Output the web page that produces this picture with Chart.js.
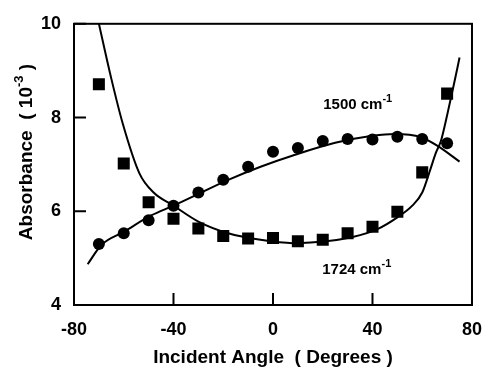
<!DOCTYPE html>
<html lang="en">
<head>
<meta charset="UTF-8">
<title>Absorbance vs Incident Angle</title>
<script src="https://cdn.jsdelivr.net/npm/chart.js"></script>
<style>
    html, body {
        margin: 0;
        padding: 0;
        background: #fff;
    }
    #wrap {
        width: 496px;
        height: 371px;
        position: relative;
    }
</style>
</head>
<body>
<div id="wrap"><canvas id="absChart"></canvas></div>
<script>
// measured points (angle in degrees, absorbance x 10^-3)
const angles = [-70, -60, -50, -40, -30, -20, -10, 0, 10, 20, 30, 40, 50, 60, 70];
const abs1500 = [5.30, 5.53, 5.81, 6.12, 6.40, 6.67, 6.95, 7.27, 7.35, 7.50, 7.54, 7.53, 7.59, 7.54, 7.45];
const abs1724 = [8.71, 7.02, 6.19, 5.84, 5.63, 5.47, 5.42, 5.43, 5.36, 5.39, 5.53, 5.67, 5.99, 6.83, 8.51];

// fitted curves
const fitAngles1500 = [-74.5, -69, -60, -49, -40, -30, -18, -5, 8, 25, 40, 49, 59.5, 66, 75];
const fit1500 = [4.87, 5.28, 5.56, 5.91, 6.12, 6.37, 6.67, 6.95, 7.19, 7.46, 7.61, 7.65, 7.58, 7.40, 7.06];
const fitAngles1724 = [-70.2, -65, -60.5, -53.7, -48, -40, -30, -18, -5, 8, 23, 32, 42, 50, 56, 60, 63, 65.5, 67.5, 70, 72.5, 75];
const fit1724 = [10.05, 8.83, 7.89, 6.81, 6.40, 6.12, 5.78, 5.53, 5.39, 5.32, 5.37, 5.45, 5.62, 5.87, 6.12, 6.40, 6.85, 7.25, 7.50, 8.05, 8.65, 9.28];

const xTicks = [-80, -40, 0, 40, 80];
const yTicks = [4, 6, 8, 10];

const FONT = '"Liberation Sans", Arial, sans-serif';

function toPoints(xs, ys) {
    return xs.map((x, i) => ({ x: x, y: ys[i] }));
}

// text with a superscript, drawn left to right from x
function drawSupText(ctx, x, y, base, sup, tail, size) {
    ctx.font = 'bold ' + size + 'px ' + FONT;
    ctx.textAlign = 'left';
    ctx.textBaseline = 'middle';
    ctx.fillText(base, x, y);
    let w = ctx.measureText(base).width;
    ctx.font = 'bold ' + Math.round(size * 0.7) + 'px ' + FONT;
    ctx.fillText(sup, x + w, y - size * 0.38);
    w += ctx.measureText(sup).width;
    if (tail) {
        ctx.font = 'bold ' + size + 'px ' + FONT;
        ctx.fillText(tail, x + w, y);
    }
}

function supWidth(ctx, base, sup, tail, size) {
    ctx.font = 'bold ' + size + 'px ' + FONT;
    let w = ctx.measureText(base).width + (tail ? ctx.measureText(tail).width : 0);
    ctx.font = 'bold ' + Math.round(size * 0.7) + 'px ' + FONT;
    return w + ctx.measureText(sup).width;
}

const framePlugin = {
    id: 'frame',
    afterDraw(chart) {
        const { ctx, chartArea: a, scales } = chart;
        ctx.save();
        ctx.strokeStyle = '#000';
        ctx.fillStyle = '#000';
        ctx.lineWidth = 2;
        ctx.strokeRect(a.left, a.top, a.right - a.left, a.bottom - a.top);

        // inward tick marks
        const tick = 12;
        ctx.beginPath();
        xTicks.forEach(v => {
            const px = scales.x.getPixelForValue(v);
            ctx.moveTo(px, a.bottom);
            ctx.lineTo(px, a.bottom - tick);
        });
        yTicks.forEach(v => {
            const py = scales.y.getPixelForValue(v);
            ctx.moveTo(a.left, py);
            ctx.lineTo(a.left + tick, py);
        });
        ctx.stroke();

        // band labels
        drawSupText(ctx, scales.x.getPixelForValue(20.2), scales.y.getPixelForValue(8.27), '1500 cm', '-1', '', 15);
        drawSupText(ctx, scales.x.getPixelForValue(19.8), scales.y.getPixelForValue(4.75), '1724 cm', '-1', '', 15);

        // x title
        ctx.font = 'bold 19px ' + FONT;
        ctx.textAlign = 'center';
        ctx.textBaseline = 'middle';
        ctx.fillText('Incident Angle  ( Degrees )', (a.left + a.right) / 2, 358);

        // y title, rotated
        ctx.translate(27, 152);
        ctx.rotate(-Math.PI / 2);
        const w = supWidth(ctx, 'Absorbance  ( 10', '-3', ' )', 19);
        drawSupText(ctx, -w / 2, 0, 'Absorbance  ( 10', '-3', ' )', 19);
        ctx.restore();
    }
};

const ctx = document.getElementById('absChart').getContext('2d');

new Chart(ctx, {
    type: 'scatter',
    data: {
        datasets: [
            {
                label: '1500 cm-1 fit',
                data: toPoints(fitAngles1500, fit1500),
                showLine: true,
                borderColor: '#000',
                borderWidth: 2,
                pointRadius: 0,
                cubicInterpolationMode: 'monotone'
            },
            {
                label: '1724 cm-1 fit',
                data: toPoints(fitAngles1724, fit1724),
                showLine: true,
                borderColor: '#000',
                borderWidth: 2,
                pointRadius: 0,
                cubicInterpolationMode: 'monotone'
            },
            {
                label: '1500 cm-1',
                data: toPoints(angles, abs1500),
                pointStyle: 'circle',
                pointRadius: 6,
                backgroundColor: '#000',
                borderColor: '#000',
                borderWidth: 0
            },
            {
                label: '1724 cm-1',
                data: toPoints(angles, abs1724),
                pointStyle: 'rect',
                pointRadius: 8.5,
                backgroundColor: '#000',
                borderColor: '#000',
                borderWidth: 0
            }
        ]
    },
    options: {
        responsive: true,
        maintainAspectRatio: false,
        animation: false,
        layout: {
            padding: { top: 17, right: 11, left: 0, bottom: 0 }
        },
        plugins: {
            legend: { display: false },
            tooltip: { enabled: false }
        },
        scales: {
            x: {
                type: 'linear',
                min: -80,
                max: 80,
                afterBuildTicks(scale) {
                    scale.ticks = xTicks.map(v => ({ value: v }));
                },
                ticks: {
                    color: '#000',
                    font: { family: FONT, size: 18, weight: 'bold' },
                    padding: 14,
                    maxRotation: 0
                },
                grid: { display: false, drawTicks: false },
                border: { display: false },
                afterFit(scale) { scale.height = 66; }
            },
            y: {
                min: 4,
                max: 10,
                afterBuildTicks(scale) {
                    scale.ticks = yTicks.map(v => ({ value: v }));
                },
                ticks: {
                    color: '#000',
                    font: { family: FONT, size: 18, weight: 'bold' },
                    padding: 13
                },
                grid: { display: false, drawTicks: false },
                border: { display: false },
                afterFit(scale) { scale.width = 74; }
            }
        }
    },
    plugins: [framePlugin]
});
</script>
</body>
</html>
